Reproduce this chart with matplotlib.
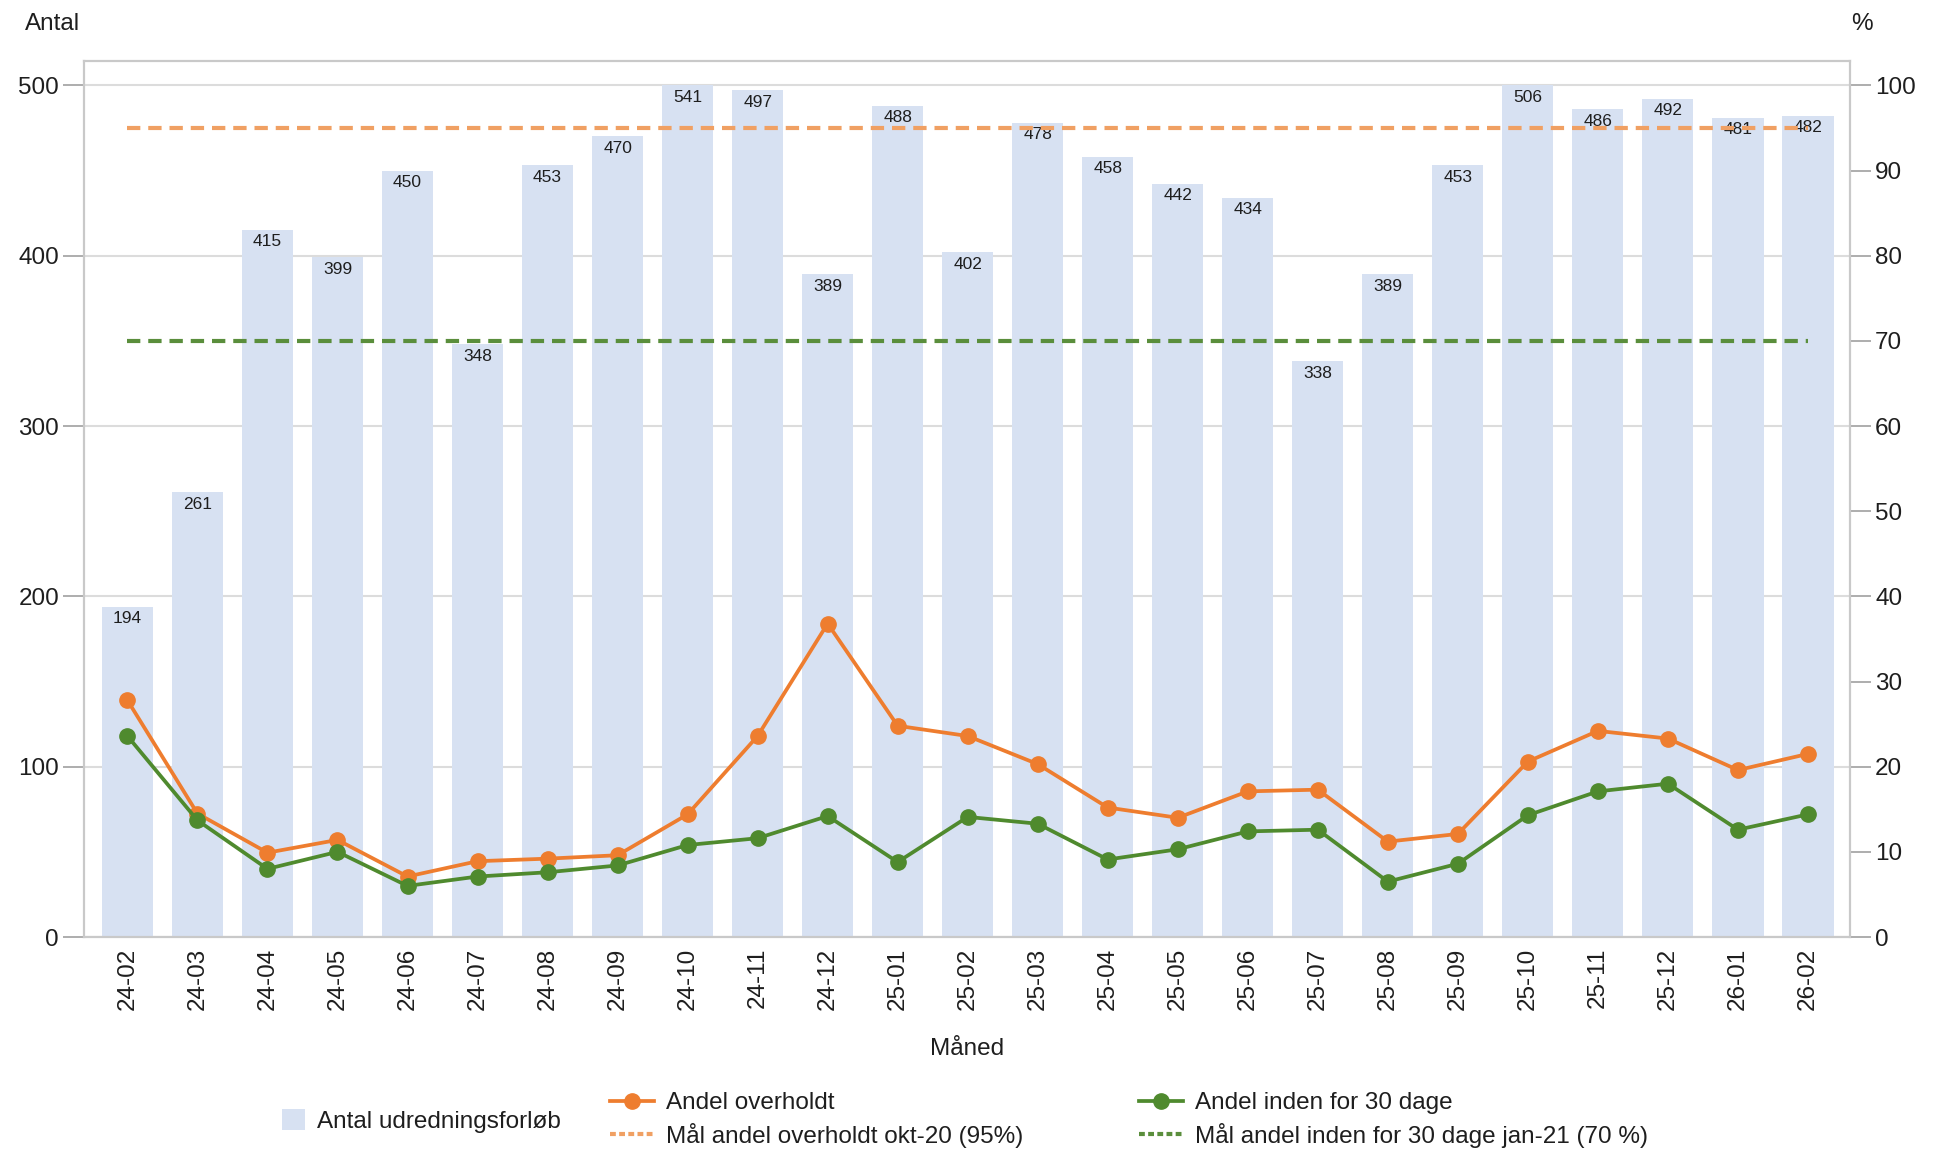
import numpy as np
import matplotlib
matplotlib.use("Agg")
import matplotlib.pyplot as plt
from matplotlib.patches import Rectangle, Patch
from matplotlib.lines import Line2D

plt.rcParams['font.family'] = ['Liberation Sans', 'DejaVu Sans']

months = ["24-02", "24-03", "24-04", "24-05", "24-06", "24-07", "24-08", "24-09",
          "24-10", "24-11", "24-12", "25-01", "25-02", "25-03", "25-04", "25-05",
          "25-06", "25-07", "25-08", "25-09", "25-10", "25-11", "25-12", "26-01", "26-02"]
antal = [194, 261, 415, 399, 450, 348, 453, 470, 541, 497, 389, 488, 402, 478,
         458, 442, 434, 338, 389, 453, 506, 486, 492, 481, 482]
andel_overholdt = [27.8, 14.5, 9.9, 11.4, 7.1, 8.9, 9.2, 9.6, 14.4, 23.6, 36.8, 24.8, 23.6,
                   20.3, 15.2, 14.0, 17.1, 17.3, 11.2, 12.1, 20.6, 24.2, 23.3, 19.6, 21.5]
andel_30 = [23.6, 13.7, 8.0, 10.0, 6.0, 7.1, 7.6, 8.4, 10.8, 11.6, 14.2, 8.8, 14.1,
            13.3, 9.1, 10.3, 12.4, 12.6, 6.5, 8.6, 14.3, 17.1, 18.0, 12.6, 14.4]
maal_overholdt = [95] * len(months)
maal_30 = [70] * len(months)
left_ticks = [0, 100, 200, 300, 400, 500]
right_ticks = [0, 10, 20, 30, 40, 50, 60, 70, 80, 90, 100]

BAR_COLOR = '#D7E1F2'
ORANGE = '#EE7D2F'
GREEN = '#4F8A2E'
ORANGE_D = '#F0A063'
GREEN_D = '#5A8E3C'
FRAME = '#C9C9C9'
TXT = '#1E1E1E'
FS = 17.5
LW = 2.7
MS = 11

fig = plt.figure(figsize=(19.41, 11.52), dpi=100)
ax = fig.add_axes([84/1941, 1-937/1152, (1850-84)/1941, (937-61)/1152])
x = np.arange(len(months))
ymax_left = 514.3
bar_cap = left_ticks[-1]

ax.set_xlim(-0.62, len(months) - 1 + 0.6)
ax.set_ylim(0, ymax_left)
bars = ax.bar(x, antal, width=0.73, color=BAR_COLOR, zorder=2)
clip_rect = Rectangle((-5, 0), len(months) + 10, bar_cap, transform=ax.transData)
for b in bars:
    b.set_clip_path(clip_rect)
for xi, v in zip(x, antal):
    ax.annotate(str(v), xy=(xi, min(v, bar_cap)), xytext=(0, -8.5), textcoords='offset points',
                ha='center', va='center', fontsize=12.5, color=TXT, zorder=3)

ax.set_yticks(left_ticks)
ax.set_yticklabels([str(t) for t in left_ticks])
ax.yaxis.grid(True, color='#DCDCDC', linewidth=1.5, zorder=0)
ax.set_axisbelow(True)
ax.set_xticks(x)
ax.set_xticklabels(months, rotation=90)
ax.tick_params(axis='x', length=0, pad=8, labelsize=FS, labelcolor=TXT)
ax.tick_params(axis='y', length=15, width=1.2, color='#A0A0A0', pad=3, labelsize=FS, labelcolor=TXT)
for s in ax.spines.values():
    s.set_color(FRAME)
    s.set_linewidth(1.5)

ax2 = ax.twinx()
ax2.set_ylim(0, ymax_left / 5)
ax2.set_yticks(right_ticks)
ax2.set_yticklabels([str(t) for t in right_ticks])
ax2.tick_params(axis='y', length=15, width=1.2, color='#A0A0A0', pad=3, labelsize=FS, labelcolor=TXT)
for s in ax2.spines.values():
    s.set_color(FRAME)
    s.set_linewidth(1.5)

ax2.plot(x, maal_overholdt, color=ORANGE_D, linewidth=3.0, dashes=(3.2, 1.9), zorder=4)
ax2.plot(x, maal_30, color=GREEN_D, linewidth=3.0, dashes=(3.2, 1.9), zorder=4)
ax2.plot(x, andel_overholdt, color=ORANGE, linewidth=LW, marker='o', markersize=MS, zorder=5)
ax2.plot(x, andel_30, color=GREEN, linewidth=LW, marker='o', markersize=MS, zorder=6)

fig.text(25/1941, 1-24/1152, "Antal", fontsize=FS, color=TXT, ha='left', va='center')
fig.text(1862/1941, 1-24/1152, "%", fontsize=FS, color=TXT, ha='center', va='center')
ax.set_xlabel("Måned", fontsize=FS, color=TXT, labelpad=20)

leg_kw = dict(frameon=False, fontsize=FS, borderpad=0, borderaxespad=0,
              handletextpad=0.5, labelspacing=0.35, loc='center left')
l1 = fig.legend([Patch(facecolor=BAR_COLOR)], ["Antal udredningsforløb"],
                bbox_to_anchor=(282/1941, 1-1121/1152), handlelength=0.95, handleheight=0.95,
                **leg_kw)
for t in l1.get_texts():
    t.set_color(TXT)
h2 = [Line2D([], [], color=ORANGE, linewidth=LW, marker='o', markersize=MS),
      Line2D([], [], color=ORANGE_D, linewidth=3.0, dashes=(1.4, 0.8))]
l2 = fig.legend(h2, ["Andel overholdt", "Mål andel overholdt okt-20 (95%)"],
                bbox_to_anchor=(610/1941, 1-1120/1152), handlelength=1.8, numpoints=1, **leg_kw)
h3 = [Line2D([], [], color=GREEN, linewidth=LW, marker='o', markersize=MS),
      Line2D([], [], color=GREEN_D, linewidth=3.0, dashes=(1.4, 0.8))]
l3 = fig.legend(h3, ["Andel inden for 30 dage", "Mål andel inden for 30 dage jan-21 (70 %)"],
                bbox_to_anchor=(1139/1941, 1-1120/1152), handlelength=1.8, numpoints=1, **leg_kw)
for lg in (l2, l3):
    for t in lg.get_texts():
        t.set_color(TXT)

fig.savefig("out.png", dpi=100, facecolor='white')
